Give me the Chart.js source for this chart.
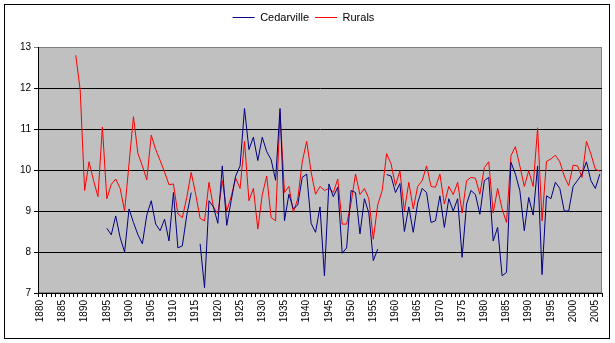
<!DOCTYPE html>
<html>
<head>
<meta charset="utf-8">
<script src="https://cdn.jsdelivr.net/npm/chart.js@4"></script>
<style>
  html, body { margin: 0; padding: 0; background: #fff; }
  canvas { display: block; }
</style>
</head>
<body>
<canvas id="chart" width="615" height="343"></canvas>
<script>
// categories: one per year
const firstYear = 1880;
const yearCount = 127;
const years = Array.from({ length: yearCount }, (_, i) => String(firstYear + i));

// Cedarville starts 1895 (null = missing year)
const cedarvilleStart = 1895;
const cedarville = [
  8.58, 8.42, 8.88, 8.35, 8.0, 9.05, 8.72, 8.42, 8.2, 8.9,
  9.25, 8.68, 8.52, 8.8, 8.27, 9.45, 8.1, 8.15, 8.9, 9.45,
  null, 8.2, 7.13, 9.25, 9.1, 8.7, 10.1, 8.65, 9.25, 9.85,
  10.1, 11.5, 10.5, 10.8, 10.23, 10.8, 10.45, 10.25, 9.75, 11.5,
  8.76, 9.41, 9.05, 9.15, 9.82, 9.9, 8.7, 8.48, 9.1, 7.42,
  9.66, 9.35, 9.58, 7.97, 8.1, 9.5, 9.45, 8.44, 9.3, 8.95,
  7.79, 8.07, null, 9.89, 9.85, 9.45, 9.67, 8.5, 9.1, 8.48,
  9.2, 9.55, 9.45, 8.72, 8.76, 9.37, 8.6, 9.3, 9.0, 9.3,
  7.87, 9.17, 9.5, 9.4, 8.92, 9.74, 9.82, 8.27, 8.6, 7.42,
  7.5, 10.19, 9.9, 9.5, 8.52, 9.33, 8.9, 10.1, 7.45, 9.37,
  9.3, 9.7, 9.55, 9.0, 9.0, 9.6, 9.75, 9.9, 10.2, 9.74,
  9.55, 9.9
];

// Rurals starts 1888
const ruralsStart = 1888;
const rurals = [
  12.8, 11.95, 9.5, 10.2, 9.75, 9.35, 11.05, 9.3, 9.65, 9.78,
  9.55, 9.0, 10.15, 11.3, 10.4, 10.1, 9.76, 10.85, 10.5, 10.23,
  9.95, 9.64, 9.66, 8.93, 8.84, 9.33, 9.94, 9.41, 8.82, 8.76,
  9.7, 9.1, 8.93, 9.74, 9.0, 9.35, 9.8, 9.55, 10.7, 9.25,
  9.55, 8.56, 9.4, 9.85, 8.84, 8.76, 11.4, 9.45, 9.6, 8.97,
  9.3, 10.2, 10.7, 9.95, 9.41, 9.6, 9.5, 9.55, 9.45, 9.78,
  8.68, 8.68, 9.2, 9.9, 9.4, 9.55, 9.3, 8.31, 9.15, 9.5,
  10.4, 10.15, 9.62, 9.98, 9.0, 9.7, 9.05, 9.6, 9.74, 10.1,
  9.6, 9.58, 9.9, 9.17, 9.6, 9.4, 9.7, 8.95, 9.74, 9.82,
  9.8, 9.41, 10.06, 10.2, 8.95, 9.55, 9.05, 8.72, 10.35, 10.57,
  10.1, 9.6, 9.98, 9.6, 11.03, 8.76, 10.21, 10.27, 10.36, 10.2,
  9.85, 9.62, 10.12, 10.1, 9.82, 10.7, 10.39, 10.02, 9.97
];

const yMin = 7, yMax = 13;

function alignToYears(values, start) {
  return years.map(y => {
    const i = Number(y) - start;
    return i >= 0 && i < values.length ? values[i] : null;
  });
}

const font = "'Liberation Sans', Arial, sans-serif";
Chart.defaults.font.family = font;
Chart.defaults.color = "#000";

const frame = {
  id: "frame",
  beforeLayout(chart) {
    if (chart.legend && !chart.legend._patched) {
      const fit = chart.legend.fit;
      chart.legend.fit = function () {
        fit.call(this);
        this.height += 14;
      };
      chart.legend._patched = true;
    }
  },
  beforeDraw(chart) {
    const { ctx, chartArea: a } = chart;
    ctx.save();
    ctx.fillStyle = "#fff";
    ctx.fillRect(0, 0, chart.width, chart.height);
    ctx.strokeStyle = "#000";
    ctx.lineWidth = 1;
    ctx.strokeRect(4.5, 4.5, 605, 334);
    ctx.fillStyle = "#c0c0c0";
    ctx.fillRect(a.left, a.top, a.right - a.left, a.bottom - a.top);
    ctx.strokeStyle = "#808080";
    ctx.strokeRect(a.left + 0.5, a.top + 0.5, a.right - a.left - 1, a.bottom - a.top - 1);
    ctx.restore();
  }
};

new Chart(document.getElementById("chart"), {
  type: "line",
  data: {
    labels: years,
    datasets: [
      {
        label: "Cedarville",
        data: alignToYears(cedarville, cedarvilleStart),
        borderColor: "#000080",
        backgroundColor: "#000080",
        borderWidth: 1,
        pointRadius: 0,
        tension: 0,
        spanGaps: false
      },
      {
        label: "Rurals",
        data: alignToYears(rurals, ruralsStart),
        borderColor: "#ff0000",
        backgroundColor: "#ff0000",
        borderWidth: 1,
        pointRadius: 0,
        tension: 0,
        spanGaps: false
      }
    ]
  },
  options: {
    responsive: false,
    animation: false,
    layout: { padding: { left: 5, right: 13, top: 6, bottom: 0 } },
    plugins: {
      legend: {
        position: "top",
        labels: {
          usePointStyle: true,
          pointStyle: "line",
          pointStyleWidth: 22,
          padding: 6,
          font: { size: 11 }
        }
      },
      tooltip: { enabled: false }
    },
    scales: {
      x: {
        offset: true,
        grid: {
          offset: true,
          drawOnChartArea: false,
          drawTicks: true,
          tickLength: 4,
          color: "#000"
        },
        border: { color: "#000" },
        ticks: {
          autoSkip: false,
          minRotation: 90,
          maxRotation: 90,
          padding: 3,
          font: { size: 10 },
          callback(value) {
            const y = Number(this.getLabelForValue(value));
            return y % 5 === 0 ? String(y) : "";
          }
        },
        afterFit(scale) { scale.height = 50; }
      },
      y: {
        min: yMin,
        max: yMax,
        ticks: { stepSize: 1, padding: 3, font: { size: 10 } },
        grid: {
          tickLength: 4,
          color: ctx => (ctx.tick && ctx.tick.value === yMax ? "#808080" : "#000")
        },
        border: { color: "#000" },
        afterFit(scale) { scale.width = 33; }
      }
    }
  },
  plugins: [frame]
});
</script>
</body>
</html>
